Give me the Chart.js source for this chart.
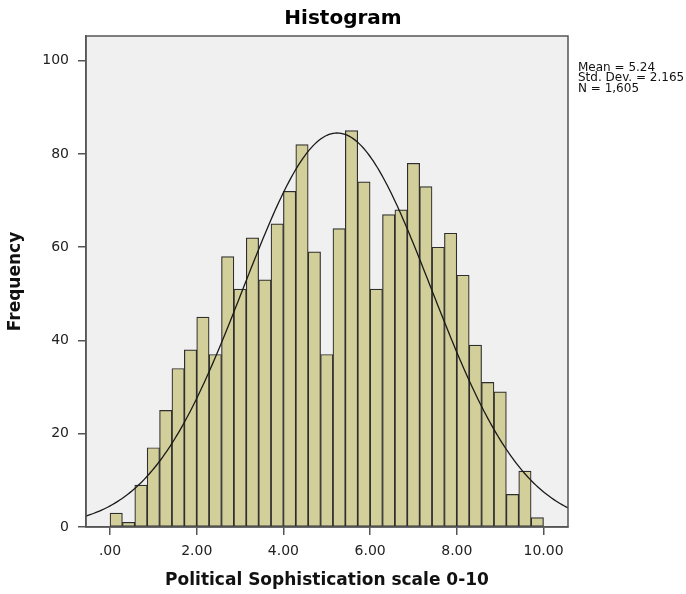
<!DOCTYPE html>
<html>
<head>
<meta charset="utf-8">
<title>Histogram</title>
<script src="https://cdn.jsdelivr.net/npm/chart.js@4.4.1/dist/chart.umd.min.js"></script>
<style>
  html, body { margin: 0; padding: 0; background: #fff; }
  #wrap { width: 686px; height: 594px; }
</style>
</head>
<body>
<div id="wrap"><canvas id="histChart" width="686" height="594"></canvas></div>
<script>
// Political Sophistication scale 0-10, 35 equal bins between 0 and 10
const binStart = 0;
const binEnd = 10;
const frequencies = [3, 1, 9, 17, 25, 34, 38, 45, 37, 58, 51, 62, 53, 65, 72, 82, 59, 37,
                     64, 85, 74, 51, 67, 68, 78, 73, 60, 63, 54, 39, 31, 29, 7, 12, 2];

const xTickValues = [0, 2, 4, 6, 8, 10];
const xTickLabels = ['.00', '2.00', '4.00', '6.00', '8.00', '10.00'];
const yTickValues = [0, 20, 40, 60, 80, 100];
const yTickLabels = ['0', '20', '40', '60', '80', '100'];

// summary shown at the right, also used for the fitted normal curve
const statMean = 5.24;
const statSd = 2.165;
const statN = 1605;
const statLines = ['Mean = 5.24', 'Std. Dev. = 2.165', 'N = 1,605'];

const xMin = -0.554;
const xMax = 10.565;
const yMax = 105.3;

document.addEventListener('DOMContentLoaded', () => {
    drawHistogram();
});

function drawHistogram() {
    const ctx = document.getElementById('histChart');
    if (!ctx) return;

    const binWidth = (binEnd - binStart) / frequencies.length;
    const barData = frequencies.map((f, i) => ({ x: binStart + (i + 0.5) * binWidth, y: f }));

    // normal curve scaled to counts per bin
    const curveData = [];
    for (let k = 0; k <= 240; k++) {
        const x = xMin + (xMax - xMin) * k / 240;
        const z = (x - statMean) / statSd;
        const y = statN * binWidth * Math.exp(-0.5 * z * z) / (statSd * Math.sqrt(2 * Math.PI));
        curveData.push({ x: x, y: y });
    }

    const frameColor = '#555555';

    const plotFrame = {
        id: 'plotFrame',
        beforeDraw(chart) {
            const a = chart.chartArea;
            const c = chart.ctx;
            c.save();
            c.fillStyle = '#f0f0f0';
            c.fillRect(a.left, a.top, a.right - a.left, a.bottom - a.top);
            c.restore();
        },
        afterDatasetsDraw(chart) {
            const a = chart.chartArea;
            const c = chart.ctx;
            c.save();
            c.strokeStyle = frameColor;
            c.lineWidth = 1.5;
            c.strokeRect(a.left, a.top, a.right - a.left, a.bottom - a.top);
            c.restore();
        },
        afterDraw(chart) {
            const c = chart.ctx;
            c.save();
            c.fillStyle = '#111';
            c.font = '12px "DejaVu Sans"';
            c.textAlign = 'left';
            c.textBaseline = 'alphabetic';
            statLines.forEach((t, i) => c.fillText(t, 578, 71 + i * 10.4));
            c.restore();
        }
    };

    Chart.defaults.font.family = '"DejaVu Sans", sans-serif';
    Chart.defaults.color = '#222';

    new Chart(ctx, {
        type: 'bar',
        data: {
            datasets: [
                {
                    type: 'line',
                    data: curveData,
                    borderColor: '#1a1a1a',
                    borderWidth: 1.3,
                    pointRadius: 0,
                    tension: 0,
                    fill: false,
                    order: 0
                },
                {
                    type: 'bar',
                    data: barData,
                    backgroundColor: '#d3cf9b',
                    borderColor: '#2e2e2e',
                    borderWidth: 1.2,
                    borderSkipped: false,
                    barPercentage: 1,
                    categoryPercentage: 1,
                    order: 1
                }
            ]
        },
        options: {
            responsive: false,
            animation: false,
            layout: { padding: 0 },
            plugins: {
                legend: { display: false },
                tooltip: { enabled: false },
                title: {
                    display: true,
                    text: 'Histogram',
                    color: '#000',
                    font: { size: 20, weight: 'bold' },
                    padding: { top: 7, bottom: 5 }
                }
            },
            scales: {
                x: {
                    type: 'linear',
                    min: xMin,
                    max: xMax,
                    offset: false,
                    afterBuildTicks: (s) => { s.ticks = xTickValues.map(v => ({ value: v })); },
                    afterFit: (s) => { s.height = 67; },
                    ticks: {
                        padding: 8,
                        font: { size: 14 },
                        color: '#222',
                        callback: (v) => xTickLabels[xTickValues.indexOf(v)]
                    },
                    grid: { display: true, offset: false, drawOnChartArea: false, drawTicks: true, tickLength: 8, color: frameColor, lineWidth: 1.5 },
                    border: { display: true, color: frameColor, width: 1.5 },
                    title: {
                        display: true,
                        text: 'Political Sophistication scale 0-10',
                        color: '#111',
                        font: { size: 17, weight: 'bold' },
                        padding: { top: 0, bottom: 3 }
                    }
                },
                y: {
                    type: 'linear',
                    position: 'left',
                    min: 0,
                    max: yMax,
                    afterBuildTicks: (s) => { s.ticks = yTickValues.map(v => ({ value: v })); },
                    afterFit: (s) => { s.width = 86; },
                    ticks: {
                        padding: 9,
                        font: { size: 14 },
                        color: '#222',
                        callback: (v) => yTickLabels[yTickValues.indexOf(v)]
                    },
                    grid: { display: true, drawOnChartArea: false, drawTicks: true, tickLength: 8, color: frameColor, lineWidth: 1.5 },
                    border: { display: true, color: frameColor, width: 1.5 },
                    title: {
                        display: true,
                        text: 'Frequency',
                        color: '#111',
                        font: { size: 17, weight: 'bold' },
                        padding: { top: 5, bottom: 0 }
                    }
                },
                // empty right-hand axis that keeps room for the summary text
                yRight: {
                    type: 'linear',
                    position: 'right',
                    display: true,
                    ticks: { display: false },
                    grid: { display: false },
                    border: { display: false },
                    afterFit: (s) => { s.width = 118; }
                }
            }
        },
        plugins: [plotFrame]
    });
}
</script>
</body>
</html>
